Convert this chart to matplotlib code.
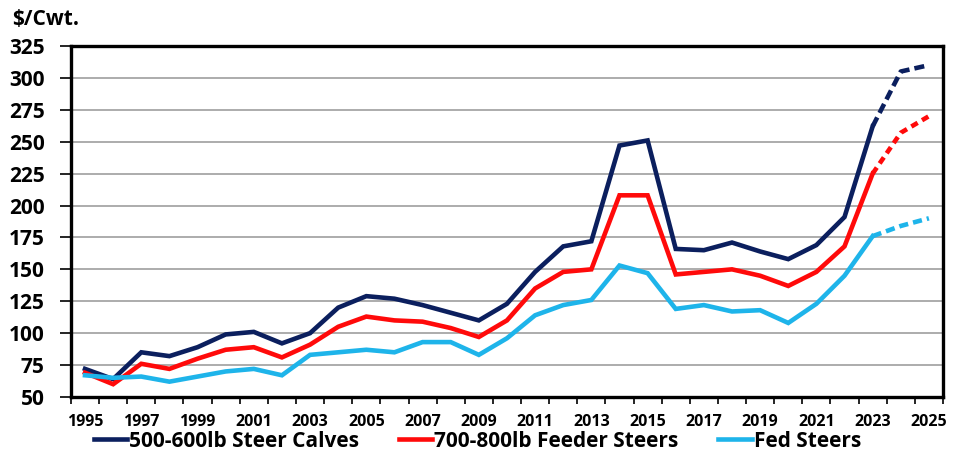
import matplotlib.pyplot as plt
import numpy as np

plt.rcParams['font.family'] = ['Open Sans', 'DejaVu Sans']
plt.rcParams['font.weight'] = 'bold'

years = list(range(1995, 2026))

# annual average prices, $/cwt (2024-2025 are projections)
calves = [72, 64, 85, 82, 89, 99, 101, 92, 100, 120, 129, 127, 122, 116, 110, 123,
          148, 168, 172, 247, 251, 166, 165, 171, 164, 158, 169, 191, 262, 305, 310]
feeders = [69, 60, 76, 72, 80, 87, 89, 81, 91, 105, 113, 110, 109, 104, 97, 110,
           135, 148, 150, 208, 208, 146, 148, 150, 145, 137, 148, 168, 225, 257, 270]
fed = [67, 65, 66, 62, 66, 70, 72, 67, 83, 85, 87, 85, 93, 93, 83, 96,
       114, 122, 126, 153, 147, 119, 122, 117, 118, 108, 123, 145, 176, 184, 190]

labels = ['500-600lb Steer Calves', '700-800lb Feeder Steers', 'Fed Steers']
colors = ['#0b1f5e', '#ff0a0a', '#1eb4ea']
dashes = [(2.2, 1.1), (1.6, 1.1), (2.0, 1.1)]
last_actual = 2023

fig = plt.figure(figsize=(9.55, 4.54), dpi=100)
ax = fig.add_axes([0.0743, 0.1256, 0.9131, 0.7731])

x = np.array(years)
n = years.index(last_actual) + 1
handles = []
for vals, lab, col, ds in zip([calves, feeders, fed], labels, colors, dashes):
    v = np.array(vals)
    h, = ax.plot(x[:n], v[:n], color=col, lw=3.3, label=lab, solid_joinstyle='miter', zorder=3)
    ax.plot(x[n - 1:], v[n - 1:], color=col, lw=3.3, linestyle=(0, ds),
            dash_capstyle='butt', zorder=3)
    handles.append(h)

ax.set_xlim(1994.5, 2025.5)
ax.set_ylim(50, 325)
ax.set_yticks(np.arange(50, 326, 25))
ax.set_xticks(years[::2])
ax.set_xticks(np.arange(1994.5, 2026, 1), minor=True)
ax.tick_params(axis='x', which='major', length=0, pad=12, labelsize=11.5)
ax.tick_params(axis='x', which='minor', length=5, width=1.2, direction='out')
ax.tick_params(axis='y', length=8, width=1.2, direction='out', labelsize=15, pad=11)
ax.yaxis.grid(True, color='#a6a6a6', lw=1.3)
ax.set_axisbelow(True)
for s in ax.spines.values():
    s.set_linewidth(2.4)
    s.set_color('black')

fig.text(0.013, 0.935, '$/Cwt.', fontsize=15, fontweight='bold', ha='left', va='bottom')

fig.legend(handles, labels, loc='center', bbox_to_anchor=(0.5, 0.028), ncol=3, frameon=False,
           fontsize=15, handlelength=1.6, handletextpad=0.1, columnspacing=1.9,
           borderpad=0, borderaxespad=0)

fig.savefig('out.png', dpi=100)
